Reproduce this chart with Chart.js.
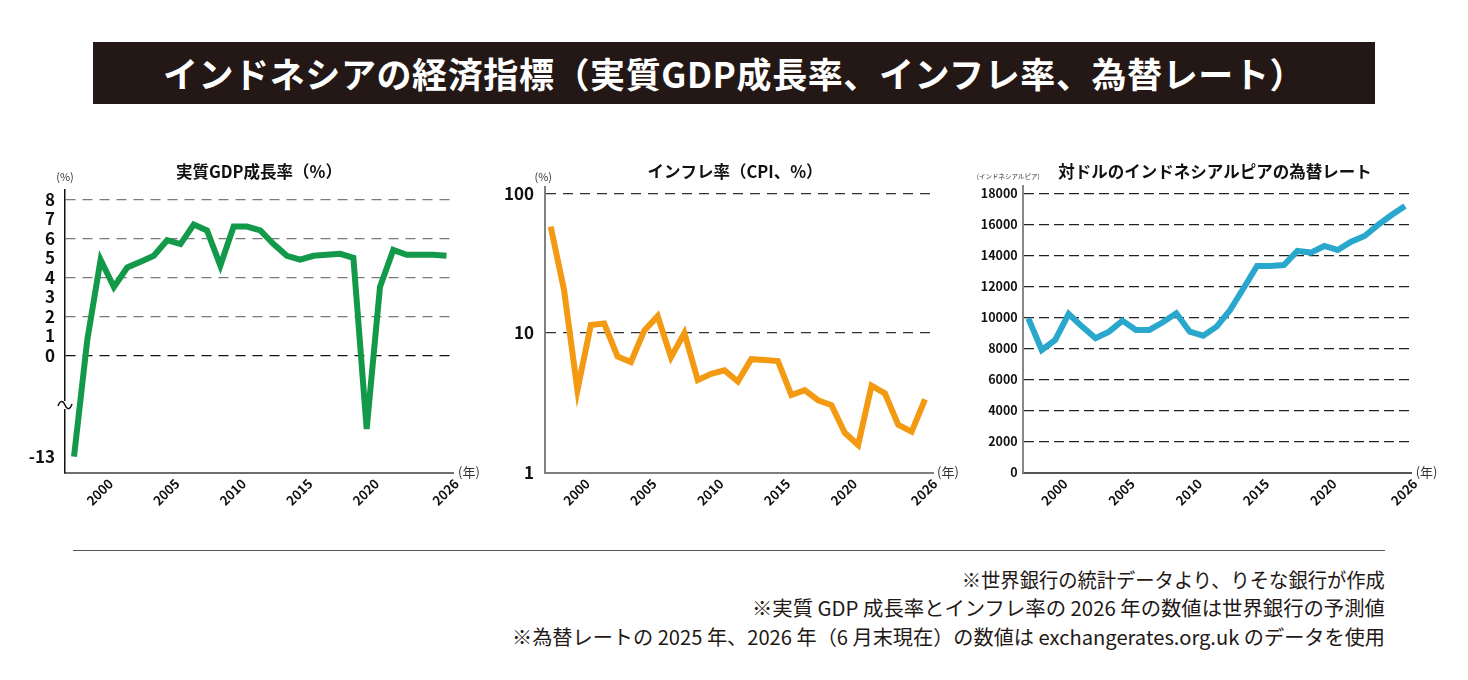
<!DOCTYPE html>
<html lang="ja">
<head>
<meta charset="utf-8">
<script src="https://cdn.jsdelivr.net/npm/chart.js@4.4.1/dist/chart.umd.min.js"></script>
<style>
html,body{margin:0;padding:0;background:#fff;}
body{width:1468px;height:680px;position:relative;overflow:hidden;font-family:"Noto Sans CJK JP","Noto Sans",sans-serif;}
#title{position:absolute;left:93px;top:42px;width:1282px;height:62px;background:#231815;color:#fff;font-weight:700;font-size:35px;letter-spacing:0.6px;line-height:62px;text-align:center;white-space:nowrap;}
#title span{display:inline-block;}
.box{position:absolute;top:150px;height:380px;}
.box canvas{display:block;}
#rule{position:absolute;left:73px;top:550px;width:1312px;height:0;border-top:1.5px solid #555;}
.note{position:absolute;right:83px;font-size:20px;color:#231815;white-space:nowrap;transform-origin:right center;line-height:20px;height:20px;}
</style>
</head>
<body>
<div id="title"><span id="titleText">インドネシアの経済指標（実質GDP成長率、インフレ率、為替レート）</span></div>
<div class="box" style="left:0;width:490px;"><canvas id="gdp" width="490" height="380"></canvas></div>
<div class="box" style="left:490px;width:480px;"><canvas id="cpi" width="480" height="380"></canvas></div>
<div class="box" style="left:970px;width:498px;"><canvas id="fx" width="498" height="380"></canvas></div>
<div id="rule"></div>
<div class="note" id="n1" style="top:570px;" data-w="423">※世界銀行の統計データより、りそな銀行が作成</div>
<div class="note" id="n2" style="top:598px;" data-w="633">※実質 GDP 成長率とインフレ率の 2026 年の数値は世界銀行の予測値</div>
<div class="note" id="n3" style="top:627px;" data-w="873">※為替レートの 2025 年、2026 年（6 月末現在）の数値は exchangerates.org.uk のデータを使用</div>
<script>
// ---------------- data ----------------
const years = [1998,1999,2000,2001,2002,2003,2004,2005,2006,2007,2008,2009,2010,2011,2012,2013,2014,2015,2016,2017,2018,2019,2020,2021,2022,2023,2024,2025,2026];
const gdpGrowth = [-13.1,0.8,4.9,3.5,4.5,4.8,5.1,5.9,5.7,6.7,6.4,4.6,6.6,6.6,6.4,5.7,5.1,4.9,5.1,5.15,5.2,5.0,-2.1,3.5,5.4,5.15,5.15,5.15,5.1];
const inflation = [57.7,20.3,3.9,11.4,11.7,6.8,6.2,10.4,13.2,6.7,10.0,4.6,5.1,5.4,4.5,6.5,6.4,6.3,3.6,3.9,3.3,3.05,1.93,1.58,4.2,3.7,2.2,1.97,3.35];
const idrPerUsd = [9945,7905,8550,10225,9410,8660,9090,9795,9195,9195,9690,10270,9085,8830,9410,10480,11880,13320,13320,13380,14285,14180,14605,14350,14885,15250,15960,16600,17185];
const xTickYears = [2000,2005,2010,2015,2020,2026];
const gdpTicks = [-13,0,1,2,3,4,5,6,7,8];
const gdpGridValues = [0,2,4,6,8];
const cpiTicks = [1,10,100];
const fxTicks = [0,2000,4000,6000,8000,10000,12000,14000,16000,18000];

const chartTitles = ['実質GDP成長率（%）','インフレ率（CPI、%）','対ドルのインドネシアルピアの為替レート'];
const unitLabels = ['(%)','(%)','(インドネシアルピア)'];
const yearUnit = '(年)';

// ---------------- broken axis for GDP ----------------
// value -> axis units (linear above 0, compressed below the break)
const gdpBreak = [[0,0],[-2.1,-3.78],[-13.1,-5.2]];
function gdpToAxis(v){
  if (v >= 0) return v;
  for (let i=0;i<gdpBreak.length-1;i++){
    const [a0,d0]=gdpBreak[i],[a1,d1]=gdpBreak[i+1];
    if (v >= a1 || i===gdpBreak.length-2) return d0 + (v-a0)*(d1-d0)/(a1-a0);
  }
}
function gdpFromAxis(d){
  if (d >= 0) return d;
  for (let i=0;i<gdpBreak.length-1;i++){
    const [a0,d0]=gdpBreak[i],[a1,d1]=gdpBreak[i+1];
    if (d >= d1 || i===gdpBreak.length-2) return a0 + (d-d0)*(a1-a0)/(d1-d0);
  }
}
class GdpBrokenScale extends Chart.LinearScale {
  buildTicks(){ this.start=this.min; this.end=this.max; return gdpTicks.map(v=>({value:v})); }
  getPixelForValue(v){ return (v===null||v===undefined) ? NaN : super.getPixelForValue(gdpToAxis(v)); }
  getValueForPixel(p){ return gdpFromAxis(super.getValueForPixel(p)); }
}
GdpBrokenScale.id = 'gdpBroken';
GdpBrokenScale.defaults = {};
Chart.register(GdpBrokenScale);

const FONT = '"Noto Sans CJK JP","Noto Sans",sans-serif';

function pts(vals){ return years.map((y,i)=>({x:y,y:vals[i]})); }

function textPlugin(idx, cfg){
  return {
    id:'texts'+idx,
    afterDraw(chart){
      const c = chart.ctx;
      c.save();
      c.fillStyle = '#111';
      c.textBaseline = 'middle';
      c.font = `700 ${cfg.titleSize}px ${FONT}`;
      c.textAlign = 'center';
      c.fillText(chartTitles[idx], cfg.titleX, 22);
      c.font = `400 ${cfg.unitSize}px ${FONT}`;
      c.fillStyle = '#333';
      c.textAlign = cfg.unitAlign;
      c.fillText(unitLabels[idx], cfg.unitX, 27);
      c.font = `400 13px ${FONT}`;
      c.textAlign = 'left';
      c.fillText(yearUnit, chart.chartArea.right + cfg.yearDx, chart.chartArea.bottom - 1);
      if (cfg.squiggle){
        const ys = chart.scales.y;
        const yb = Chart.LinearScale.prototype.getPixelForValue.call(ys, -2.55);
        const x = ys.right;
        c.fillStyle = '#fff';
        c.fillRect(x-2, yb-4, 4, 8);
        c.strokeStyle = '#111';
        c.lineWidth = 1.5;
        c.beginPath();
        c.moveTo(x-7, yb+1);
        c.bezierCurveTo(x-5, yb-5, x-2, yb-5, x, yb);
        c.bezierCurveTo(x+2, yb+5, x+5, yb+5, x+7, yb-1);
        c.stroke();
      }
      c.restore();
    }
  };
}

function xScale(min,max,borderColor){
  return {
    type:'linear', min, max,
    afterBuildTicks(s){ s.ticks = xTickYears.map(v=>({value:v})); },
    afterFit(s){ s.height = 57.3; },
    grid:{display:false, drawTicks:false},
    border:{display:true, color:borderColor, width:2},
    ticks:{autoSkip:false, minRotation:45, maxRotation:45, padding:3, labelOffset:10,
      color:'#111', font:{family:FONT, size:13, weight:'700'}, callback:v=>String(v)}
  };
}

function makeChart(id, idx, data, color, yOpts, xOpts, pad, tcfg){
  return new Chart(document.getElementById(id), {
    type:'line',
    data:{datasets:[{data:pts(data), borderColor:color, borderWidth:6, pointRadius:0, tension:0, fill:false, borderCapStyle:'butt', borderJoinStyle:'miter'}]},
    options:{
      responsive:false, animation:false, devicePixelRatio:1,
      layout:{padding:pad},
      plugins:{legend:{display:false}, tooltip:{enabled:false}, title:{display:false}},
      scales:{x:xOpts, y:yOpts}
    },
    plugins:[textPlugin(idx, tcfg)]
  });
}

// GDP chart
makeChart('gdp', 0, gdpGrowth, '#13994a', {
  type:'gdpBroken', min:-6.02, max:8.51,
  afterFit(s){ s.width = 65; },
  grid:{drawTicks:false, lineWidth:1.3,
    color:ctx=> ctx.tick && gdpGridValues.includes(ctx.tick.value) ? (ctx.tick.value===0 ? '#111' : '#7a7a7a') : 'rgba(0,0,0,0)'},
  border:{display:true, color:'#111', width:1.5, dash:[10,7]},
  ticks:{autoSkip:false, padding:10, color:'#111', font:{family:FONT, size:17, weight:'700'}, callback:v=>String(v)}
}, xScale(1997.323, 2026.489, '#6e6e6e'), {left:0, top:39.3, right:37, bottom:0},
{titleX:259, titleSize:16.5, unitX:65, unitAlign:'center', unitSize:11, yearDx:5, squiggle:true});

// CPI chart
makeChart('cpi', 1, inflation, '#f39a12', {
  type:'logarithmic', min:1, max:111.5,
  afterBuildTicks(s){ s.ticks = cpiTicks.map(v=>({value:v})); },
  afterFit(s){ s.width = 55; },
  grid:{drawTicks:false, lineWidth:1.3, color:ctx=> ctx.tick && ctx.tick.value>1 ? '#333' : 'rgba(0,0,0,0)'},
  border:{display:true, color:'#808080', width:2, dash:[10,7]},
  ticks:{autoSkip:false, padding:11, color:'#111', font:{family:FONT, size:17, weight:'700'}, callback:v=>String(v)}
}, xScale(1997.574, 2026.598, '#808080'), {left:0, top:36.7, right:37, bottom:0},
{titleX:245, titleSize:16.5, unitX:53.3, unitAlign:'center', unitSize:11, yearDx:4, squiggle:false});

// FX chart
makeChart('fx', 2, idrPerUsd, '#2aa7cc', {
  type:'linear', min:0, max:18470,
  afterBuildTicks(s){ s.ticks = fxTicks.map(v=>({value:v})); },
  afterFit(s){ s.width = 52.7; },
  grid:{drawTicks:false, lineWidth:1.3, color:ctx=> ctx.tick && ctx.tick.value>0 ? '#222' : 'rgba(0,0,0,0)'},
  border:{display:true, color:'#888', width:2, dash:[10,5]},
  ticks:{autoSkip:false, padding:5, color:'#111', font:{family:FONT, size:12.5, weight:'700'}, callback:v=>String(v)}
}, xScale(1997.584, 2026.498, '#555'), {left:0, top:36, right:56.3, bottom:0},
{titleX:245, titleSize:16.5, unitX:6.7, unitAlign:'left', unitSize:6.5, yearDx:4, squiggle:false});

// fit footnote widths
document.querySelectorAll('.note').forEach(n=>{
  const w = n.getBoundingClientRect().width;
  const target = +n.dataset.w;
  n.style.transform = `scaleX(${(target/w).toFixed(4)})`;
});
</script>
</body>
</html>
